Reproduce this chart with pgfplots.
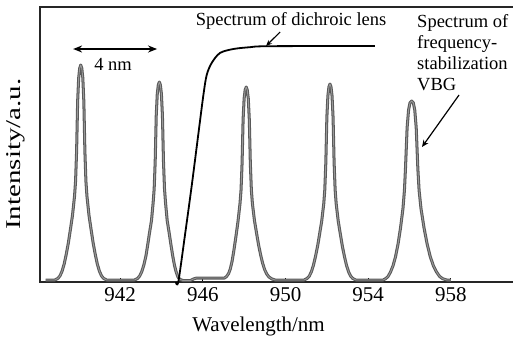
\documentclass[border=0pt]{standalone}
\usepackage{fontspec}
\setmainfont{Liberation Serif}
\usepackage{pgfplots}
\usepackage{pgfplotstable}
\pgfplotsset{compat=1.18}
\usetikzlibrary{arrows.meta}

\pgfplotstableread{
x y
938.40 2
938.85 2
939.00 3.7
939.10 6.3
939.20 11
939.30 18.1
939.40 27.8
939.50 39
939.60 52.5
939.70 66.5
939.80 85.9
939.85 100.9
939.90 131
939.95 180.5
940.00 204.1
940.05 213.8
940.10 217
940.15 213.8
940.20 204.1
940.25 180.5
940.30 131
940.35 100.9
940.40 85.9
940.50 66.5
940.60 52.5
940.70 39
940.80 27.8
940.90 18.1
941.00 11
941.10 6.3
941.20 3.7
941.35 2
942.70 2
942.85 3.6
942.95 6
943.05 10.3
943.15 16.9
943.25 25.8
943.33 36.1
943.42 48.5
943.52 61.4
943.60 79.2
943.65 93.1
943.70 120.8
943.75 166.3
943.80 188.1
943.85 197
943.90 200
943.95 197
944.00 188.1
944.05 166.3
944.10 120.8
944.15 93.1
944.20 79.2
944.28 61.4
944.38 48.5
944.47 36.1
944.55 25.8
944.63 16.9
944.71 10.3
944.80 5
944.90 2.5
945.05 1.5
945.40 1.5
945.55 3
945.70 4
947.05 4
947.15 5.5
947.25 8.5
947.33 13
947.42 21
947.50 31
947.60 45
947.70 60
947.80 78.5
947.85 91.9
947.90 118.6
947.95 162.5
948.00 183.5
948.05 192.1
948.10 195
948.15 192.1
948.20 183.5
948.25 162.5
948.30 118.6
948.35 91.9
948.40 78.5
948.50 61.3
948.60 48.9
948.70 36.9
948.80 26.9
948.90 18.3
949.00 12
949.10 7.8
949.20 5
949.35 3
949.50 2
950.90 2
951.05 3.6
951.15 5.9
951.25 10.2
951.35 16.7
951.45 25.5
951.55 35.7
951.65 48.1
951.75 60.8
951.85 78.4
951.90 92.2
951.95 119.6
952.00 164.7
952.05 186.2
952.10 195.1
952.15 198
952.20 195.1
952.25 186.2
952.30 164.7
952.35 119.6
952.40 92.2
952.45 78.4
952.55 60.8
952.65 48.1
952.75 35.7
952.85 25.5
952.95 16.7
953.05 10.2
953.15 5.9
953.25 3.6
953.40 2
954.72 2
954.84 3.3
954.96 5.6
955.08 10.1
955.20 16.3
955.32 25.3
955.44 37.8
955.56 53.9
955.68 73.6
955.75 91.5
955.80 113
955.88 154.2
955.95 172
956.02 179.2
956.10 181
956.18 179.2
956.25 172
956.32 154.2
956.40 113
956.46 91.5
956.55 73.6
956.70 53.9
956.85 37.8
957.00 25.3
957.15 16.3
957.30 10.1
957.45 5.6
957.60 3.3
957.80 2
958.00 2
}\vbg

\pgfplotstableread{
x y
944.70 0
944.82 0.5
945.14 47
945.47 97
945.78 147
946.03 187
946.19 207
946.43 219
946.83 229
947.48 233
948.28 234.8
949.20 235.8
954.32 236
}\dichroic

\begin{document}
\begin{tikzpicture}[font=\fontsize{21}{25}\selectfont]
\useasboundingbox (-40pt,-56pt) rectangle (473pt,282pt);
\begin{axis}[
  at={(0,0)}, anchor=south west,
  scale only axis,
  width=473pt, height=275pt,
  xmin=938.13, xmax=961.0,
  ymin=0, ymax=275,
  axis line style={draw=none},
  xtick={942,946,950,954,958},
  xtick pos=bottom,
  ytick=\empty,
  tick align=inside,
  major tick length=4pt,
  tick style={black, line width=1pt},
  /pgf/number format/assume math mode=true,
  /pgf/number format/1000 sep={},
  xticklabel style={yshift=-2pt},
  xlabel={Wavelength/nm},
  xlabel style={at={(axis description cs:0.462,-0.16)}, anchor=center},
  ylabel={\scalebox{1.38}[1]{Intensity/a.u.}},
  ylabel style={at={(axis description cs:-0.0507,0.465)}, anchor=center},
  clip=false,
]
\draw[line width=1.3pt, black!85] (rel axis cs:1,1) -- (rel axis cs:0,1) -- (rel axis cs:0,0) -- (rel axis cs:1,0);
\addplot[color=black!65, line width=3pt, line join=round, no markers] table[x=x,y=y] {\vbg};
\addplot[color=black!40, line width=0.9pt, line join=round, no markers] table[x=x,y=y] {\vbg};
\addplot[color=black, line width=1.8pt, smooth, tension=0.5, no markers] table[x=x,y=y] {\dichroic};
\begin{scope}[font=\fontsize{18.5}{21.3}\selectfont]
\node[anchor=base] at (axis cs:950.27,257) {Spectrum of dichroic lens};
\node[anchor=base] at (axis cs:941.66,212) {4 nm};
\node[anchor=base west, inner sep=0pt] at (axis cs:956.36,255) {Spectrum of};
\node[anchor=base west, inner sep=0pt] at (axis cs:956.36,233.7) {frequency-};
\node[anchor=base west, inner sep=0pt] at (axis cs:956.36,212.4) {stabilization};
\node[anchor=base west, inner sep=0pt] at (axis cs:956.36,191.1) {VBG};
\end{scope}
\draw[-{Stealth[length=6pt,width=5pt]}, line width=1.2pt] (axis cs:949.74,250) -- (axis cs:949.06,236);
\draw[-{Stealth[length=7pt,width=6pt]}, line width=1.2pt] (axis cs:958.39,187) -- (axis cs:956.60,135);
\draw[{Stealth[length=9pt,width=7pt]}-{Stealth[length=9pt,width=7pt]}, line width=1.8pt] (axis cs:939.73,233) -- (axis cs:943.79,233);
\end{axis}
\end{tikzpicture}
\end{document}
